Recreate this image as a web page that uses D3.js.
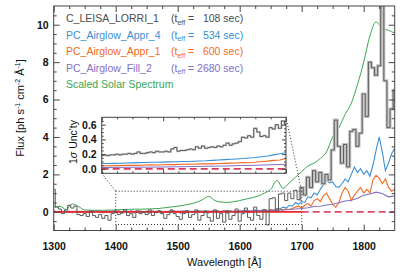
<!DOCTYPE html>
<html>
<head>
<meta charset="utf-8">
<script src="https://cdn.jsdelivr.net/npm/d3@7"></script>
<style>
body { margin: 0; background: #fff; }
svg { display: block; font-family: "Liberation Sans", Arial, Helvetica, sans-serif; }
.domain { display: none; }
.tick line { stroke: #444; }
.tick text { fill: #111; font-weight: bold; }
</style>
</head>
<body>
<svg id="chart" width="415" height="277"></svg>
<script>
// wavelength grids (Angstrom)
var wave5 = d3.range(1300, 1851, 5);
var wave10 = d3.range(1300, 1851, 10);
var insetWave5 = d3.range(1400, 1701, 5);
var insetWave10 = d3.range(1400, 1701, 10);
var insetWave50 = d3.range(1400, 1701, 50);

// C_LEISA_LORRI_1 flux, 5 A bins
var lorriFlux = [
  1.2, 0.25, 0.15, -0.1, 0.1, 0.35, 0.2, 0.3, -0.15, -0.2,
  -0.1, -0.25, 0.05, -0.2, -0.3, -0.15, -0.35, -0.2, -0.45, -0.1,
  0.05, -0.15, -0.05, 0.1, -0.2, -0.1, -0.3, 0.05, -0.1, 0.0,
  -0.15, 0.1, -0.2, -0.05, 0.05, -0.1, -0.35, -0.15, 0.1, -0.1,
  -0.25, -0.4, -0.1, 0.05, -0.3, -0.15, 0.1, -0.45, -0.2, 0.05,
  -0.3, -0.5, 0.1, -0.35, -0.1, -0.55, 0.05, -0.4, -0.2, 0.15,
  -0.5, -0.1, 0.2, -0.3, -0.45, 0.25, -0.2, -0.4, 0.1, -0.7,
  0.7, 0.75, 0.05, 0.95, 1.0, 0.6, 1.0, 0.7, 1.15, 0.65,
  1.3, 0.9, 1.85, 1.3, 2.2, 1.6, 2.1, 1.5, 2.0, 1.7,
  3.3, 4.9, 3.5, 2.6, 3.6, 2.4, 4.3, 4.4, 3.5, 4.2,
  6.3, 5.1, 8.0, 7.7, 7.3, 7.8, 11.5, 7.0, 4.5, 5.5,
  6.5
];
// PC_Airglow_Appr_4, 5 A bins
var appr4Flux = [
  0.05, 0.0, -0.05, 0.03, -0.02, 0.04, -0.06, 0.02, 0.0, -0.04,
  0.03, -0.05, 0.02, -0.03, 0.05, -0.02, -0.06, 0.03, -0.04, 0.02,
  -0.05, 0.04, -0.08, 0.02, -0.03, 0.05, -0.06, 0.0, 0.04, -0.05,
  0.02, -0.07, 0.03, -0.02, 0.05, -0.06, 0.01, -0.04, 0.06, -0.03,
  0.02, -0.08, 0.04, -0.05, 0.03, 0.0, -0.06, 0.05, -0.03, 0.02,
  -0.07, 0.04, -0.02, 0.06, -0.05, 0.03, -0.08, 0.05, 0.0, -0.04,
  0.06, -0.03, 0.08, -0.05, 0.04, 0.1, 0.02, 0.08, 0.12, 0.05,
  0.12, 0.08, 0.18, 0.15, 0.25, 0.2, 0.35, 0.3, 0.5, 0.4,
  0.55, 0.5, 0.8, 0.75, 1.0, 0.9, 1.2, 1.45, 1.7, 1.55,
  1.6, 1.35, 1.3, 1.5, 1.75, 1.6, 2.0, 2.4, 2.1, 2.3,
  2.0, 2.2, 1.9, 2.5, 3.3, 4.0, 3.2, 2.2, 2.6, 3.1,
  3.4
];
// PC_Airglow_Appr_1, 5 A bins
var appr1Flux = [
  0.02, -0.03, 0.04, -0.01, 0.03, -0.04, 0.02, 0.0, -0.03, 0.04,
  -0.02, 0.03, -0.05, 0.01, 0.04, -0.03, 0.02, -0.04, 0.03, 0.0,
  -0.03, 0.05, -0.02, 0.03, -0.05, 0.02, 0.0, -0.04, 0.05, -0.02,
  0.03, -0.05, 0.04, -0.01, 0.02, -0.06, 0.03, 0.0, -0.04, 0.05,
  -0.03, 0.02, -0.05, 0.04, 0.0, -0.03, 0.05, -0.02, 0.03, -0.06,
  0.04, -0.02, 0.05, -0.04, 0.02, 0.06, -0.03, 0.04, 0.0, 0.05,
  -0.02, 0.06, 0.02, 0.07, 0.0, 0.05, 0.08, 0.03, 0.1, 0.06,
  0.12, 0.08, 0.1, 0.14, 0.1, 0.15, 0.12, 0.18,
  0.25, 0.3, 0.2, 0.35, 0.45, 0.3, 0.6, 0.7, 0.55, 0.85,
  1.0, 0.7, 0.4, 0.25, 0.5, 1.0, 1.3, 1.1, 0.6, 0.9,
  1.1, 1.3, 1.0, 1.2, 1.0, 1.7, 1.95, 1.8, 1.5, 1.75,
  1.3, 1.1, 1.2
];
// PC_Airglow_Fill_2, 10 A bins
var fill2Flux = [
  0.02, 0.0, 0.03, 0.01, 0.02, 0.0, 0.03, 0.02, 0.01, 0.03,
  0.02, 0.01, 0.03, 0.02, 0.0, 0.03, 0.02, 0.03, 0.01, 0.03,
  0.02, 0.04, 0.02, 0.03, 0.04, 0.02, 0.04, 0.03, 0.05, 0.03,
  0.04, 0.05, 0.04, 0.06, 0.05, 0.07, 0.08, 0.1, 0.12, 0.15,
  0.18, 0.22, 0.28, 0.3, 0.36, 0.4, 0.48, 0.58, 0.62, 0.72,
  0.88, 0.95, 1.05, 0.98, 0.8, 0.85
];
// scaled solar spectrum, 10 A bins
var solarFlux = [
  0.25, 0.3, 0.12, 0.42, 0.28, 0.1, 0.08, 0.08, 0.08, 0.09,
  0.1, 0.12, 0.13, 0.14, 0.14, 0.15, 0.16, 0.18, 0.22, 0.26,
  0.3, 0.35, 0.42, 0.5, 0.65, 0.82, 0.6, 0.52, 0.5, 0.54,
  0.6, 0.68, 0.75, 0.85, 1.0, 1.2, 1.68, 1.25, 1.55, 1.85,
  2.15, 2.45, 2.6, 2.85, 3.2, 4.0, 4.5, 5.2, 5.8, 6.8,
  8.0, 9.4, 10.15, 9.8, 9.7, 9.55
];

// inset: 1-sigma uncertainty
var lorriUnc = [
  0.18, 0.19, 0.18, 0.19, 0.19, 0.2, 0.19, 0.2, 0.2, 0.21,
  0.2, 0.21, 0.23, 0.21, 0.21, 0.22, 0.23, 0.22, 0.24, 0.23,
  0.23, 0.24, 0.23, 0.27, 0.29, 0.24, 0.25, 0.25, 0.26, 0.27,
  0.26, 0.3, 0.28, 0.31, 0.28, 0.29, 0.3, 0.29, 0.31, 0.3,
  0.32, 0.35, 0.32, 0.34, 0.35, 0.37, 0.43, 0.42, 0.45, 0.43,
  0.55, 0.5, 0.44, 0.45, 0.43, 0.56, 0.54, 0.6, 0.55, 0.65,
  0.6
];
var appr4Unc = [
  0.07, 0.072, 0.075, 0.077, 0.08, 0.082, 0.085, 0.087, 0.09, 0.09,
  0.092, 0.095, 0.097, 0.1, 0.1, 0.104, 0.107, 0.11, 0.115, 0.12,
  0.125, 0.13, 0.135, 0.14, 0.148, 0.155, 0.165, 0.175, 0.19, 0.205,
  0.22
];
var appr1Unc = [
  0.04, 0.042, 0.045, 0.044, 0.047, 0.05, 0.048, 0.052, 0.055, 0.053,
  0.057, 0.06, 0.058, 0.062, 0.065, 0.063, 0.068, 0.07, 0.068, 0.073,
  0.075, 0.078, 0.08, 0.085, 0.083, 0.09, 0.1, 0.105, 0.115, 0.12,
  0.14
];
var fill2Unc = [0.018, 0.022, 0.026, 0.032, 0.04, 0.05, 0.062];

var legendNames = ["C_LEISA_LORRI_1", "PC_Airglow_Appr_4", "PC_Airglow_Appr_1", "PC_Airglow_Fill_2", "Scaled Solar Spectrum"];
var legendTimes = ["  108", "  534", "  600", "2680", null];
var legendColors = ["#4a4a4a", "#3b8fd3", "#f26a21", "#8470c4", "#3aa552"];

var xTicksMajor = [1300, 1400, 1500, 1600, 1700, 1800];
var yTicksMajor = [0, 2, 4, 6, 8, 10];
var insetYTicks = [0.0, 0.2, 0.4, 0.6];

var svg = d3.select("#chart");

var plot = {left: 53.7, top: 6, right: 394.7, bottom: 230.5};
var inset = {left: 101.7, top: 117.3, right: 286, bottom: 173.3};

var x = d3.scaleLinear().domain([1300, 1850]).range([plot.left, plot.right]);
var y = d3.scaleLinear().domain([-1, 11]).range([plot.bottom, plot.top]);
var ix = d3.scaleLinear().domain([1400, 1700]).range([inset.left, inset.right]);
var iy = d3.scaleLinear().domain([-0.06, 0.7]).range([inset.bottom, inset.top]);

svg.append("defs").append("clipPath").attr("id", "clipMain")
  .append("rect")
  .attr("x", plot.left).attr("y", plot.top)
  .attr("width", plot.right - plot.left).attr("height", plot.bottom - plot.top);

function seriesLine(xs, xsc, ysc, curve) {
  return d3.line()
    .x(function(d, i) { return xsc(xs[i]); })
    .y(function(d) { return ysc(d); })
    .curve(curve || d3.curveLinear);
}

function drawAxes(xsc, ysc, box, xMajor, xMinor, yMajor, yMinor, yFmt, xLabels, bigLen, smallLen) {
  svg.append("g").attr("transform", "translate(0," + box.bottom + ")")
    .call(d3.axisBottom(xsc).tickValues(xMajor).tickSize(-bigLen).tickSizeOuter(0)
      .tickPadding(12).tickFormat(xLabels ? d3.format("d") : ""));
  svg.append("g").attr("transform", "translate(0," + box.bottom + ")")
    .call(d3.axisBottom(xsc).tickValues(xMinor).tickSize(-smallLen).tickSizeOuter(0).tickFormat(""));
  svg.append("g").attr("transform", "translate(0," + box.top + ")")
    .call(d3.axisTop(xsc).tickValues(xMajor).tickSize(-bigLen).tickSizeOuter(0).tickFormat(""));
  svg.append("g").attr("transform", "translate(0," + box.top + ")")
    .call(d3.axisTop(xsc).tickValues(xMinor).tickSize(-smallLen).tickSizeOuter(0).tickFormat(""));

  svg.append("g").attr("transform", "translate(" + box.left + ",0)")
    .call(d3.axisLeft(ysc).tickValues(yMajor).tickSize(-bigLen).tickSizeOuter(0)
      .tickPadding(5).tickFormat(yFmt));
  svg.append("g").attr("transform", "translate(" + box.left + ",0)")
    .call(d3.axisLeft(ysc).tickValues(yMinor).tickSize(-smallLen).tickSizeOuter(0).tickFormat(""));
  svg.append("g").attr("transform", "translate(" + box.right + ",0)")
    .call(d3.axisRight(ysc).tickValues(yMajor).tickSize(-bigLen).tickSizeOuter(0).tickFormat(""));
  svg.append("g").attr("transform", "translate(" + box.right + ",0)")
    .call(d3.axisRight(ysc).tickValues(yMinor).tickSize(-smallLen).tickSizeOuter(0).tickFormat(""));

  svg.append("rect")
    .attr("x", box.left).attr("y", box.top)
    .attr("width", box.right - box.left).attr("height", box.bottom - box.top)
    .attr("fill", "none").attr("stroke", "#444").attr("stroke-width", 1);
}

// ---- main panel ----
var main = svg.append("g").attr("clip-path", "url(#clipMain)");

main.append("path").datum(solarFlux)
  .attr("d", seriesLine(wave10, x, y, d3.curveMonotoneX))
  .attr("fill", "none").attr("stroke", legendColors[4]).attr("stroke-width", 1);

main.append("path").datum(appr4Flux)
  .attr("d", seriesLine(wave5, x, y))
  .attr("fill", "none").attr("stroke", legendColors[1]).attr("stroke-width", 1.1);

main.append("path").datum(appr1Flux)
  .attr("d", seriesLine(wave5, x, y))
  .attr("fill", "none").attr("stroke", legendColors[2]).attr("stroke-width", 1.1);

main.append("path").datum(fill2Flux)
  .attr("d", seriesLine(wave10, x, y))
  .attr("fill", "none").attr("stroke", legendColors[3]).attr("stroke-width", 1.1);

// zero level: solid over the zoomed range, dashed beyond
main.append("line")
  .attr("x1", x(1300)).attr("x2", x(1700)).attr("y1", y(0)).attr("y2", y(0))
  .attr("stroke", "#e8262e").attr("stroke-width", 1.8);
main.append("line")
  .attr("x1", x(1700)).attr("x2", x(1850)).attr("y1", y(0)).attr("y2", y(0))
  .attr("stroke", "#df4a6c").attr("stroke-width", 1.8).attr("stroke-dasharray", "7,4");

// light band behind the bright part of the LORRI spectrum
var lorriHalo = seriesLine(wave5, x, y, d3.curveStep)
  .defined(function(d, i) { return wave5[i] >= 1695; });
main.append("path").datum(lorriFlux)
  .attr("d", lorriHalo)
  .attr("fill", "none").attr("stroke", "#c4c4c4").attr("stroke-width", 3);
main.append("path").datum(lorriFlux)
  .attr("d", seriesLine(wave5, x, y, d3.curveStep))
  .attr("fill", "none").attr("stroke", "#5a5a5a").attr("stroke-width", 1);

drawAxes(x, y, plot, xTicksMajor,
  d3.range(1325, 1850, 25).filter(function(v) { return v % 100 !== 0; }),
  yTicksMajor,
  d3.range(-0.5, 11, 0.5).filter(function(v) { return v % 2 !== 0; }),
  d3.format("d"), true, 6, 3);

// zoom box and connectors
var zoomBox = {x0: 1400, x1: 1700, y0: -0.68, y1: 1.1};
svg.append("rect")
  .attr("x", x(zoomBox.x0)).attr("y", y(zoomBox.y1))
  .attr("width", x(zoomBox.x1) - x(zoomBox.x0)).attr("height", y(zoomBox.y0) - y(zoomBox.y1))
  .attr("fill", "none").attr("stroke", "#333").attr("stroke-dasharray", "1,2");
svg.append("line")
  .attr("x1", inset.left).attr("y1", inset.bottom)
  .attr("x2", x(zoomBox.x0)).attr("y2", y(zoomBox.y1))
  .attr("stroke", "#333").attr("stroke-dasharray", "1,2");
svg.append("line")
  .attr("x1", inset.right).attr("y1", inset.top)
  .attr("x2", x(zoomBox.x1)).attr("y2", y(zoomBox.y1))
  .attr("stroke", "#333").attr("stroke-dasharray", "1,2");

// ---- inset ----
svg.append("rect")
  .attr("x", inset.left).attr("y", inset.top)
  .attr("width", inset.right - inset.left).attr("height", inset.bottom - inset.top)
  .attr("fill", "#fff");

svg.append("path").datum(fill2Unc)
  .attr("d", seriesLine(insetWave50, ix, iy))
  .attr("fill", "none").attr("stroke", legendColors[3]).attr("stroke-width", 1.1);
svg.append("path").datum(appr1Unc)
  .attr("d", seriesLine(insetWave10, ix, iy))
  .attr("fill", "none").attr("stroke", legendColors[2]).attr("stroke-width", 1.1);
svg.append("path").datum(appr4Unc)
  .attr("d", seriesLine(insetWave10, ix, iy))
  .attr("fill", "none").attr("stroke", legendColors[1]).attr("stroke-width", 1.1);
svg.append("line")
  .attr("x1", ix(1400)).attr("x2", ix(1700)).attr("y1", iy(0)).attr("y2", iy(0))
  .attr("stroke", "#df3a5e").attr("stroke-width", 1.8).attr("stroke-dasharray", "7,4");
svg.append("path").datum(lorriUnc)
  .attr("d", seriesLine(insetWave5, ix, iy, d3.curveStep))
  .attr("fill", "none").attr("stroke", "#d2d2d2").attr("stroke-width", 2);
svg.append("path").datum(lorriUnc)
  .attr("d", seriesLine(insetWave5, ix, iy, d3.curveStep))
  .attr("fill", "none").attr("stroke", "#5a5a5a").attr("stroke-width", 1);

drawAxes(ix, iy, inset, [1400, 1500, 1600, 1700],
  d3.range(1425, 1700, 25).filter(function(v) { return v % 100 !== 0; }),
  insetYTicks,
  [-0.05, 0.05, 0.1, 0.15, 0.25, 0.3, 0.35, 0.45, 0.5, 0.55, 0.65],
  d3.format(".1f"), false, 4, 2);

svg.selectAll(".tick text").attr("font-size", 10.5);

// ---- labels ----
svg.append("text")
  .attr("x", (plot.left + plot.right) / 2).attr("y", 266)
  .attr("text-anchor", "middle").attr("font-size", 11).attr("fill", "#111")
  .text("Wavelength [Å]");

var yl = svg.append("text")
  .attr("transform", "translate(24,108) rotate(-90)")
  .attr("text-anchor", "middle").attr("font-size", 11).attr("fill", "#111");
yl.append("tspan").text("Flux [ph s");
yl.append("tspan").attr("dy", -4).attr("font-size", 7).text("-1");
yl.append("tspan").attr("dy", 4).text(" cm");
yl.append("tspan").attr("dy", -4).attr("font-size", 7).text("-2");
yl.append("tspan").attr("dy", 4).text(" Å");
yl.append("tspan").attr("dy", -4).attr("font-size", 7).text("-1");
yl.append("tspan").attr("dy", 4).text("]");

var il = svg.append("text")
  .attr("transform", "translate(77,142) rotate(-90)")
  .attr("text-anchor", "middle").attr("font-size", 10.5).attr("fill", "#111");
il.append("tspan").text("1");
il.append("tspan").attr("font-style", "italic").text("σ");
il.append("tspan").text(" Unc'ty");

// legend
var legend = svg.append("g").attr("font-size", 10.5);
legendNames.forEach(function(name, i) {
  var yy = 22 + i * 16.6;
  legend.append("text").attr("x", 66).attr("y", yy)
    .attr("fill", legendColors[i]).text(name);
  if (legendTimes[i] !== null) {
    var t = legend.append("text").attr("x", 171).attr("y", yy)
      .attr("xml:space", "preserve").style("white-space", "pre")
      .attr("fill", legendColors[i]);
    t.append("tspan").text("(t");
    t.append("tspan").attr("font-size", 7).attr("dy", 2.5).text("eff");
    t.append("tspan").attr("dy", -2.5).text(" = " + legendTimes[i] + " sec)");
  }
});
</script>
</body>
</html>
